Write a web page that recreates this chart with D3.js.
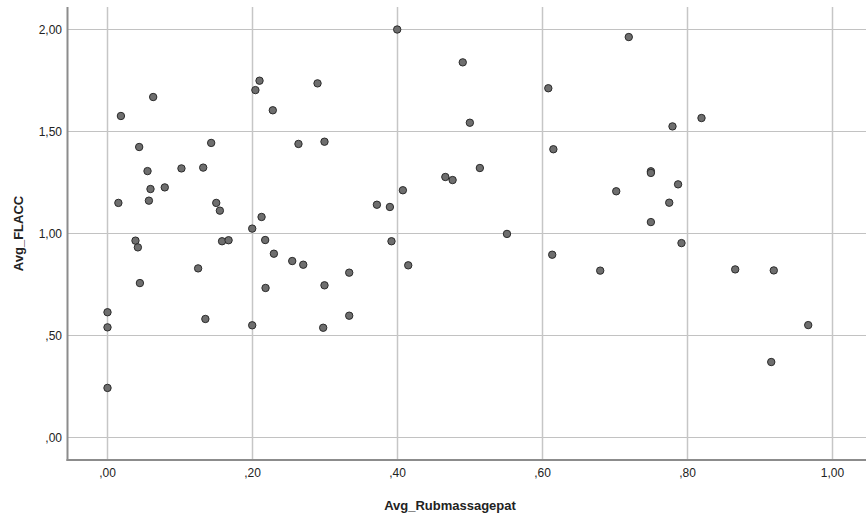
<!DOCTYPE html>
<html>
<head>
<meta charset="utf-8">
<script src="https://cdn.jsdelivr.net/npm/d3@7"></script>
<style>
  html, body { margin: 0; padding: 0; background: #ffffff; }
  svg { display: block; font-family: "Liberation Sans", Arial, sans-serif; }
</style>
</head>
<body>
<svg id="chart" width="866" height="520"></svg>
<script>
// Average rub/massage score per patient versus average FLACC score
const rubMassage = [
  0.000, 0.000, 0.000, 0.015, 0.0185, 0.063, 0.0386, 0.0419, 0.0437, 0.0447,
  0.0552, 0.0571, 0.0593, 0.079, 0.102, 0.125, 0.132, 0.135, 0.143, 0.150,
  0.155, 0.158, 0.167, 0.1996, 0.1996, 0.204, 0.2097, 0.2125, 0.2175, 0.218,
  0.228, 0.2295, 0.2548, 0.2634, 0.270, 0.2897, 0.2975, 0.2993, 0.2993, 0.3334,
  0.3334, 0.3716, 0.3895, 0.3917, 0.3996, 0.4074, 0.4148, 0.466, 0.476, 0.490,
  0.4998, 0.5136, 0.551, 0.608, 0.6134, 0.615, 0.6796, 0.7017, 0.719, 0.7495,
  0.7495, 0.7495, 0.7748, 0.7793, 0.787, 0.7917, 0.8193, 0.8658, 0.9155, 0.919,
  0.9665
];
const flacc = [
  0.614, 0.540, 0.243, 1.150, 1.576, 1.669, 0.965, 0.932, 1.424, 0.757,
  1.306, 1.161, 1.218, 1.226, 1.319, 0.829, 1.323, 0.581, 1.444, 1.150,
  1.112, 0.962, 0.967, 1.024, 0.550, 1.703, 1.749, 1.081, 0.968, 0.733,
  1.604, 0.901, 0.865, 1.439, 0.847, 1.736, 0.538, 1.450, 0.746, 0.808,
  0.597, 1.141, 1.130, 0.962, 2.000, 1.212, 0.844, 1.277, 1.262, 1.839,
  1.543, 1.321, 0.998, 1.712, 0.896, 1.413, 0.818, 1.207, 1.963, 1.305,
  1.297, 1.056, 1.151, 1.525, 1.241, 0.953, 1.566, 0.824, 0.370, 0.819,
  0.551
];
const xTicks = [0, 0.2, 0.4, 0.6, 0.8, 1.0];
const yTicks = [0, 0.5, 1.0, 1.5, 2.0];
const xTitle = "Avg_Rubmassagepat";
const yTitle = "Avg_FLACC";

const svg = d3.select("#chart");
const frame = { left: 67.5, right: 866, top: 7, bottom: 460 };

const x = d3.scaleLinear().domain([0, 1]).range([107.5, 832.5]);
const y = d3.scaleLinear().domain([0, 2]).range([437.5, 29.5]);

// comma decimal separator, leading zero dropped (",20", "1,00")
const fmt = v => {
  const s = d3.format(".2f")(v).replace(".", ",");
  return s.startsWith("0,") ? s.slice(1) : s;
};

// grid lines
const grid = svg.append("g");
grid.selectAll("line.h").data(yTicks).join("line")
  .attr("class", "h")
  .attr("x1", frame.left).attr("x2", frame.right)
  .attr("y1", d => y(d)).attr("y2", d => y(d))
  .attr("stroke", "#c2c2c2").attr("stroke-width", 1.2);
grid.selectAll("line.v").data(xTicks).join("line")
  .attr("class", "v")
  .attr("x1", d => x(d)).attr("x2", d => x(d))
  .attr("y1", frame.top).attr("y2", frame.bottom)
  .attr("stroke", "#c6c6c6").attr("stroke-width", 1.5);

// axis lines
svg.append("line")
  .attr("x1", frame.left).attr("x2", frame.left)
  .attr("y1", frame.top).attr("y2", frame.bottom + 1)
  .attr("stroke", "#8c8c8c").attr("stroke-width", 2);
svg.append("line")
  .attr("x1", frame.left - 1).attr("x2", frame.right)
  .attr("y1", frame.bottom).attr("y2", frame.bottom)
  .attr("stroke", "#8c8c8c").attr("stroke-width", 2);

// tick labels
svg.append("g").selectAll("text").data(yTicks).join("text")
  .attr("x", 62).attr("y", d => y(d)).attr("dy", "0.36em")
  .attr("text-anchor", "end").attr("font-size", 12).attr("fill", "#222")
  .text(fmt);
svg.append("g").selectAll("text").data(xTicks).join("text")
  .attr("x", d => x(d)).attr("y", 477)
  .attr("text-anchor", "middle").attr("font-size", 12).attr("fill", "#222")
  .text(fmt);

// axis titles
svg.append("text")
  .attr("x", 450).attr("y", 510)
  .attr("text-anchor", "middle").attr("font-size", 13).attr("font-weight", "bold")
  .attr("fill", "#222").text(xTitle);
svg.append("text")
  .attr("transform", "translate(23,233.5) rotate(-90)")
  .attr("text-anchor", "middle").attr("font-size", 13).attr("font-weight", "bold")
  .attr("fill", "#222").text(yTitle);

// points
const points = rubMassage.map((v, i) => ({ x: v, y: flacc[i] }));
svg.append("g").selectAll("circle").data(points).join("circle")
  .attr("cx", d => x(d.x)).attr("cy", d => y(d.y)).attr("r", 3.7)
  .attr("fill", "#6e6e6e").attr("stroke", "#2b2b2b").attr("stroke-width", 1);
</script>
</body>
</html>
